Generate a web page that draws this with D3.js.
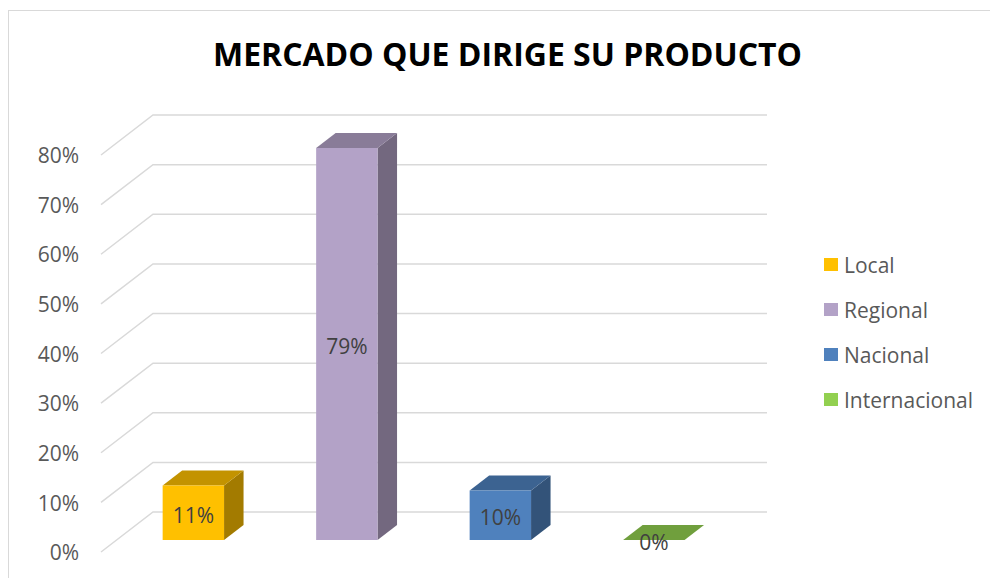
<!DOCTYPE html>
<html>
<head>
<meta charset="utf-8">
<script src="https://cdn.jsdelivr.net/npm/d3@7"></script>
<style>
  body { margin: 0; background: #fff; }
  svg text { font-family: "Open Sans", "Noto Sans", sans-serif; }
</style>
</head>
<body>
<div id="chart"></div>
<script>
// data
var categories = ["Local", "Regional", "Nacional", "Internacional"];
var values = [0.11, 0.79, 0.10, 0];
var colors = ["#FFC000", "#B3A2C7", "#4F81BD", "#92D050"];
var tickValues = [0, 0.1, 0.2, 0.3, 0.4, 0.5, 0.6, 0.7, 0.8];
var title = "MERCADO QUE DIRIGE SU PRODUCTO";

var svgWidth = 990;
var svgHeight = 578;

// floor front edge and depth vector of the 3d box
var floor = { x0: 101, x1: 715, y0: 552 };
var depth = { dx: 52, dy: -40 };
var barFront = 0.3, barBack = 0.675;

var svg = d3.select("#chart")
  .append("svg")
  .attr("width", svgWidth)
  .attr("height", svgHeight);

// chart border
svg.append("rect")
  .attr("x", 8.5)
  .attr("y", 10.5)
  .attr("width", 1000)
  .attr("height", 1000)
  .attr("fill", "#fff")
  .attr("stroke", "#d9d9d9")
  .attr("stroke-width", 1);

// scales
var xScale = d3.scaleBand()
  .domain(categories)
  .range([floor.x0, floor.x1])
  .paddingInner(0.6)
  .paddingOuter(0.3);

var hScale = d3.scaleLinear()
  .domain([0, 0.8])
  .range([0, 397]);

var yFront = d3.scaleLinear()
  .domain([0, 0.8])
  .range([floor.y0, floor.y0 - 397]);

// project a point: x on the front edge, value, depth fraction
function pt(x, v, f) {
  return [x + f * depth.dx, floor.y0 + f * depth.dy - hScale(v)];
}

// gridlines: side wall diagonal + back wall line
var grid = svg.append("g")
  .attr("stroke", "#d9d9d9")
  .attr("stroke-width", 1.5)
  .attr("fill", "none");

grid.selectAll("path")
  .data(tickValues)
  .enter()
  .append("path")
  .attr("d", function(t) {
    return d3.line()([pt(floor.x0, t, 0), pt(floor.x0, t, 1), pt(floor.x1, t, 1)]);
  });

// y axis labels
var yAxis = d3.axisLeft(yFront)
  .tickValues(tickValues)
  .tickFormat(d3.format(".0%"))
  .tickSize(0)
  .tickPadding(0);

var axisG = svg.append("g")
  .attr("transform", "translate(79,1)")
  .call(yAxis);
axisG.select(".domain").remove();
axisG.selectAll("text")
  .attr("fill", "#595959")
  .attr("font-size", 21)
  .style("font-family", "'Open Sans', sans-serif");

// bars
var barsG = svg.append("g");
var bars = barsG.selectAll("g")
  .data(categories)
  .enter()
  .append("g");

function face(pts) { return d3.line()(pts) + "Z"; }

// side face
bars.append("path")
  .attr("fill", function(d, i) { return d3.color(colors[i]).darker(1.25); })
  .attr("d", function(d, i) {
    var xr = xScale(d) + xScale.bandwidth();
    return face([pt(xr, 0, barFront), pt(xr, 0, barBack), pt(xr, values[i], barBack), pt(xr, values[i], barFront)]);
  });

// top face
bars.append("path")
  .attr("fill", function(d, i) { return d3.color(colors[i]).darker(0.75); })
  .attr("d", function(d, i) {
    var xl = xScale(d), xr = xScale(d) + xScale.bandwidth();
    return face([pt(xl, values[i], barFront), pt(xr, values[i], barFront), pt(xr, values[i], barBack), pt(xl, values[i], barBack)]);
  });

// front face
bars.append("path")
  .attr("fill", function(d, i) { return colors[i]; })
  .attr("d", function(d, i) {
    var xl = xScale(d), xr = xScale(d) + xScale.bandwidth();
    return face([pt(xl, 0, barFront), pt(xr, 0, barFront), pt(xr, values[i], barFront), pt(xl, values[i], barFront)]);
  });

// data labels
bars.append("text")
  .attr("x", function(d) { return pt(xScale(d) + xScale.bandwidth() / 2, 0, barFront)[0]; })
  .attr("y", function(d, i) { return pt(0, values[i] / 2, barFront)[1] + 2; })
  .attr("text-anchor", "middle")
  .attr("dominant-baseline", "central")
  .attr("font-size", 21)
  .attr("fill", "#404040")
  .text(function(d, i) { return d3.format(".0%")(values[i]); });

// title
svg.append("text")
  .attr("x", 507.5)
  .attr("y", 66)
  .attr("text-anchor", "middle")
  .attr("font-size", 33)
  .attr("font-weight", "bold")
  .attr("fill", "#000")
  .attr("textLength", 589)
  .attr("lengthAdjust", "spacingAndGlyphs")
  .text(title);

// legend
var legend = svg.append("g")
  .selectAll("g")
  .data(categories)
  .enter()
  .append("g")
  .attr("transform", function(d, i) { return "translate(824," + (265 + i * 45) + ")"; });

legend.append("rect")
  .attr("x", 0)
  .attr("y", -7)
  .attr("width", 14)
  .attr("height", 13)
  .attr("fill", function(d, i) { return colors[i]; });

legend.append("text")
  .attr("x", 20)
  .attr("y", 0)
  .attr("dominant-baseline", "central")
  .attr("font-size", 21)
  .attr("fill", "#595959")
  .text(function(d) { return d; });
</script>
</body>
</html>
